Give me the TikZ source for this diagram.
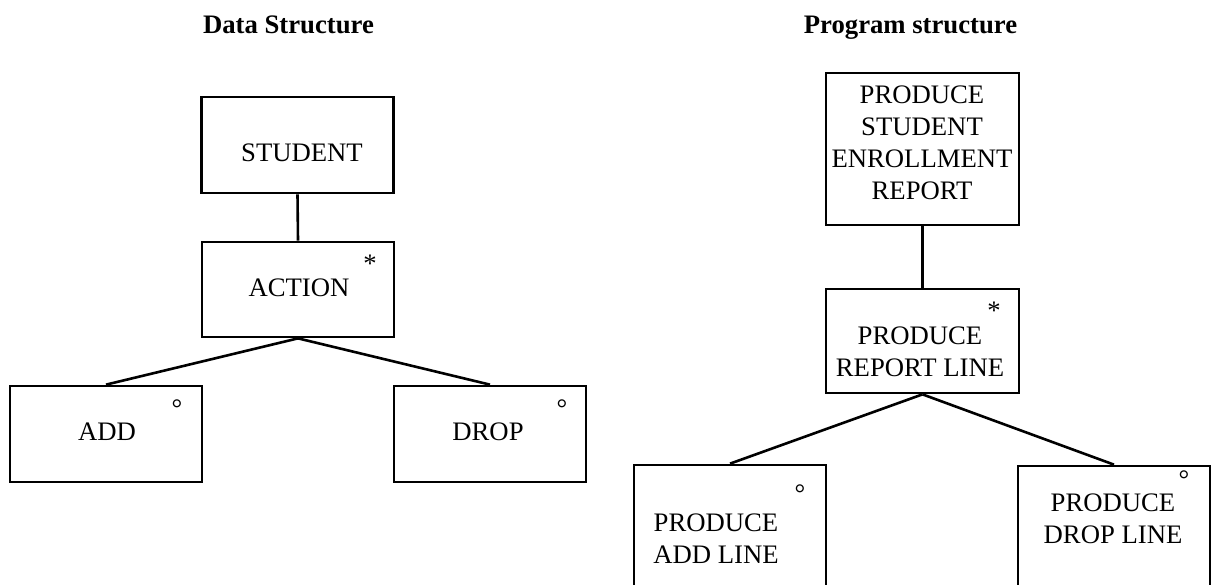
\documentclass[tikz,border=0pt]{standalone}
\usepackage{fontspec}
\setmainfont{Liberation Serif}
\begin{document}
\begin{tikzpicture}[x=1pt,y=-1pt,
  box/.style={draw,line width=2.7pt,inner sep=0pt,minimum width=192pt},
  boxtext/.style={inner sep=0pt,font=\fontsize{26.7}{32}\selectfont,align=center},
  heading/.style={inner sep=0pt,font=\fontsize{26.7}{32}\selectfont\bfseries,anchor=base},
  tag/.style={inner sep=0pt,font=\fontsize{26.7}{32}\selectfont,anchor=base},
  link/.style={line width=2.6pt}]
\useasboundingbox (0,0) rectangle (1212,584);
\clip (0,0) rectangle (1212,584);

% ---- Data structure ----
\node[heading] (dstitle) at (288.5,33) {Data Structure};

\node[box,minimum height=96pt] (student) at (297.5,145) {};
\node[box,minimum height=95pt] (action) at (298,289.5) {};
\node[box,minimum height=96pt] (add) at (106,434) {};
\node[box,minimum height=96pt] (drop) at (490,434) {};

\node[tag] (studenttxt) at (302,161) {STUDENT};
\node[tag] (actiontxt) at (299,296) {ACTION};
\node[tag] (addtxt) at (107,440) {ADD};
\node[tag] (droptxt) at (488,440) {DROP};

\node[tag] (actionstar) at (370,272) {*};
\node[tag] (addsel) at (177,417) {°};
\node[tag] (dropsel) at (562,417) {°};

\draw[link] (student.south) -- (action.north);
\draw[link] (action.south) -- (add.north);
\draw[link] (action.south) -- (drop.north);

% ---- Program structure ----
\node[heading] (pstitle) at (910.5,33) {Program structure};

\node[box,minimum width=193pt,minimum height=152pt] (report) at (922.5,149) {};
\node[box,minimum width=193pt,minimum height=104pt] (line) at (922.5,341) {};
\node[box,minimum height=155pt] (addline) at (730,542.5) {};
\node[box,minimum height=154pt] (dropline) at (1114,543) {};

\node[boxtext] (reporttxt) at (922,143) {PRODUCE\\STUDENT\\ENROLLMENT\\REPORT};
\node[boxtext] (linetxt) at (920,351.5) {PRODUCE\\REPORT LINE};
\node[boxtext] (addlinetxt) at (716,538.5) {PRODUCE\\ADD LINE};
\node[boxtext] (droplinetxt) at (1113,519) {PRODUCE\\DROP LINE};

\node[tag] (linestar) at (994,319) {*};
\node[tag] (addlinesel) at (800,502) {°};
\node[tag] (droplinesel) at (1184,488) {°};

\draw[link] (report.south) -- (line.north);
\draw[link] (line.south) -- (addline.north);
\draw[link] (line.south) -- (dropline.north);
\end{tikzpicture}
\end{document}
